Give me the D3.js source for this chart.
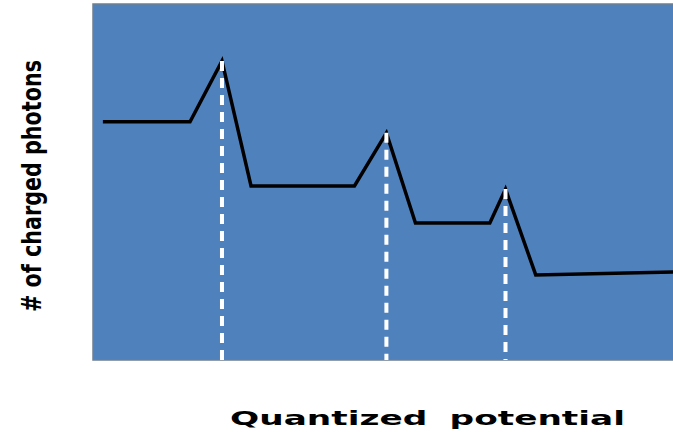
<!DOCTYPE html>
<html><head><meta charset="utf-8">
<script src="https://cdn.jsdelivr.net/npm/d3@7"></script>
<style>html,body{margin:0;padding:0;background:#fff;}svg{display:block;}</style>
</head><body>
<svg id="c" width="673" height="436"></svg>
<script>
const potential = [1.7, 16.7, 22.2, 27.2, 45.0, 50.5, 55.5, 68.3, 71.0, 76.2, 100];
const photons   = [66.9, 66.9, 84.0, 48.9, 48.9, 63.8, 38.5, 38.5, 48.0, 23.9, 24.7];
const peakPotential = [22.2, 50.5, 71.0];
const peakPhotons   = [84.0, 63.8, 48.0];
const xTitle = "Quantized potential";
const yTitle = "# of charged photons";

(function () {
const svg = d3.select("#c");
const pl = 93, pr = 674, pt = 4, pb = 360;
const x = d3.scaleLinear().domain([0, 100]).range([pl, pr]);
const y = d3.scaleLinear().domain([0, 100]).range([pb, pt]);

svg.append("rect").attr("x", pl).attr("y", pt).attr("width", pr - pl + 2).attr("height", pb - pt)
  .attr("fill", "#4f81bd").attr("stroke", "#6f7f90").attr("stroke-width", 1.5);

const pts = potential.map((v, i) => [v, photons[i]]);
svg.append("path").datum(pts)
  .attr("d", d3.line().x(d => x(d[0])).y(d => y(d[1])))
  .attr("fill", "none").attr("stroke", "#000").attr("stroke-width", 3.5)
  .attr("stroke-linejoin", "miter");

svg.selectAll("line.peak").data(peakPotential).join("line").attr("class", "peak")
  .attr("x1", d => x(d)).attr("x2", d => x(d))
  .attr("y1", (d, i) => y(peakPhotons[i])).attr("y2", y(0))
  .attr("stroke", "#fff").attr("stroke-width", 4).attr("stroke-dasharray", "10,7");

svg.append("text").text(xTitle)
  .attr("x", 230).attr("y", 425)
  .attr("textLength", 395).attr("lengthAdjust", "spacingAndGlyphs")
  .style("font-family", "'DejaVu Sans', sans-serif").style("font-weight", "900")
  .style("font-size", "20px").style("word-spacing", "6px").attr("fill", "#000");

svg.append("text").text(yTitle)
  .attr("transform", "translate(41,186) rotate(-90)")
  .attr("text-anchor", "middle")
  .attr("textLength", 252).attr("lengthAdjust", "spacingAndGlyphs")
  .style("font-family", "'Liberation Sans Narrow', 'DejaVu Sans Condensed', sans-serif")
  .style("font-weight", "bold").style("font-size", "26px").attr("fill", "#000");
})();
</script>
</body></html>
